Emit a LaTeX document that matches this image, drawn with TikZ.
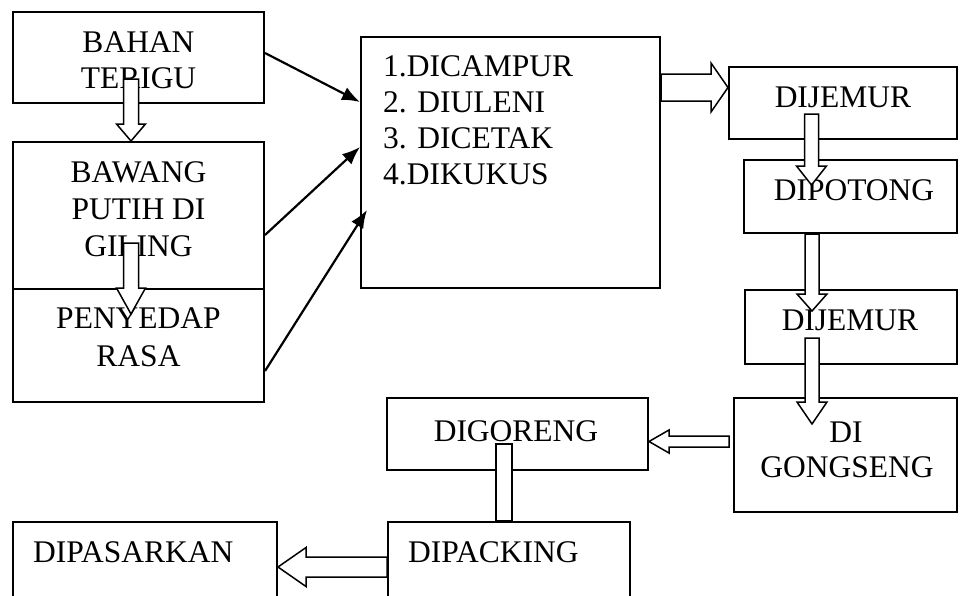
\documentclass[tikz,border=0pt]{standalone}
\usepackage{fontspec}
\setmainfont{Liberation Serif}
\usetikzlibrary{calc,arrows.meta}
% hollow block arrows: #1 start, #2 tip, #3 shaft half width, #4 head half width, #5 head length
\newcommand\hdown[5]{\draw[hollow] ($(#1)+(-#3,0)$) -- ($(#2)+(-#3,-#5)$) -- ($(#2)+(-#4,-#5)$) -- (#2) -- ($(#2)+(#4,-#5)$) -- ($(#2)+(#3,-#5)$) -- ($(#1)+(#3,0)$) -- cycle;}
\newcommand\hright[5]{\draw[hollow] ($(#1)+(0,-#3)$) -- ($(#2)+(-#5,-#3)$) -- ($(#2)+(-#5,-#4)$) -- (#2) -- ($(#2)+(-#5,#4)$) -- ($(#2)+(-#5,#3)$) -- ($(#1)+(0,#3)$) -- cycle;}
\newcommand\hleft[5]{\draw[hollow] ($(#1)+(0,-#3)$) -- ($(#2)+(#5,-#3)$) -- ($(#2)+(#5,-#4)$) -- (#2) -- ($(#2)+(#5,#4)$) -- ($(#2)+(#5,#3)$) -- ($(#1)+(0,#3)$) -- cycle;}
\tikzset{
  flowbox/.style={draw, line width=2pt, inner sep=0pt},
  lbl/.style={font=\fontsize{31.5}{37}\selectfont, inner sep=0pt, anchor=base},
  lbll/.style={lbl, anchor=base west},
  hollow/.style={draw, fill=white, line width=1.5pt, line join=miter},
  thinarrow/.style={line width=2.2pt, -{Latex[length=18pt,width=14pt]}}
}
\begin{document}
\begin{tikzpicture}[x=1pt, y=-1pt]
\clip (0,0) rectangle (962,595);
\fill[white] (0,0) rectangle (962,595);
% boxes
\node[flowbox, minimum width=251pt, minimum height=91pt]  (bahan)    at (138.5,57.5) {};
\node[flowbox, minimum width=251pt, minimum height=147pt] (bawang)   at (138.5,215.5) {};
\node[flowbox, minimum width=251pt, minimum height=113pt] (penyedap) at (138.5,345.5) {};
\node[flowbox, minimum width=299pt, minimum height=251pt] (main)     at (510.5,162.5) {};
\node[flowbox, minimum width=228pt, minimum height=72pt]  (jemur1)   at (843,103) {};
\node[flowbox, minimum width=213pt, minimum height=73pt]  (potong)   at (850.5,196.5) {};
\node[flowbox, minimum width=212pt, minimum height=74pt]  (jemur2)   at (851,327) {};
\node[flowbox, minimum width=223pt, minimum height=114pt] (gongseng) at (845.5,455) {};
\node[flowbox, minimum width=261pt, minimum height=72pt]  (goreng)   at (517.5,434) {};
\node[flowbox, minimum width=242pt, minimum height=118pt] (packing)  at (509,581) {};
\node[flowbox, minimum width=264pt, minimum height=118pt] (pasarkan) at (145,581) {};
% texts
\node[lbl] (t1a) at (138.5,52) {BAHAN};
\node[lbl] (t1b) at (138.5,88) {TERIGU};
\node[lbl] (t2a) at (138.5,182) {BAWANG};
\node[lbl] (t2b) at (138.5,219) {PUTIH DI};
\node[lbl] (t2c) at (138.5,256) {GILING};
\node[lbl] (t3a) at (138.5,328) {PENYEDAP};
\node[lbl] (t3b) at (138.5,366) {RASA};
\node[lbll] (m1) at (383,76) {1.DICAMPUR};
\node[lbll] (m2) at (383,112) {2. DIULENI};
\node[lbll] (m3) at (383,148) {3. DICETAK};
\node[lbll] (m4) at (383,184) {4.DIKUKUS};
\node[lbl] (t4) at (843,107) {DIJEMUR};
\node[lbl] (t5) at (854,200) {DIPOTONG};
\node[lbl] (t6) at (850,330) {DIJEMUR};
\node[lbl] (t7a) at (846,442) {DI};
\node[lbl] (t7b) at (847,477) {GONGSENG};
\node[lbl] (t8) at (516,441) {DIGORENG};
\node[lbll] (t9) at (408,562) {DIPACKING};
\node[lbll] (t10) at (33,562) {DIPASARKAN};
% hollow arrows
\coordinate (h1s) at ($(bahan.south)+(-7.5,-25)$);
\coordinate (h1t) at ($(bawang.north)+(-7.5,0)$);
\hdown{h1s}{h1t}{7.5}{14.5}{17}
\coordinate (h2s) at ($(bawang.south)+(-7.5,-47)$);
\coordinate (h2t) at ($(penyedap.north)+(-7.5,26)$);
\hdown{h2s}{h2t}{7.5}{14.5}{26}
\coordinate (h3s) at ($(jemur1.south)+(-31.5,-26)$);
\coordinate (h3t) at ($(potong.north)+(-39,26)$);
\hdown{h3s}{h3t}{7}{15}{19}
\coordinate (h4s) at ($(potong.south)+(-38.5,0)$);
\coordinate (h4t) at ($(jemur2.north)+(-39,22)$);
\hdown{h4s}{h4t}{7}{15}{17}
\coordinate (h5s) at ($(jemur2.south)+(-39,-27)$);
\coordinate (h5t) at ($(gongseng.north)+(-33.5,27)$);
\hdown{h5s}{h5t}{7}{15}{22}
\coordinate (h6s) at ($(main.east)+(0,-75)$);
\coordinate (h6t) at ($(jemur1.west)+(0,-15.5)$);
\hright{h6s}{h6t}{13.5}{24.5}{17}
\coordinate (h7s) at ($(gongseng.west)+(-4,-13.5)$);
\coordinate (h7t) at ($(goreng.east)+(0,7.5)$);
\hleft{h7s}{h7t}{5.5}{11.5}{20}
\coordinate (h8s) at ($(packing.west)+(0,-14)$);
\coordinate (h8t) at ($(pasarkan.east)+(0,-14)$);
\hleft{h8s}{h8t}{10}{19.5}{28}
\draw[hollow] ($(goreng.south)+(-21.5,-27)$) rectangle ($(packing.north)+(3,0)$);
% thin arrows
\draw[thinarrow] ($(bahan.east)+(0,-4.5)$) -- ($(main.west)+(0,-60.5)$);
\draw[thinarrow] ($(bawang.east)+(0,19.5)$) -- ($(main.west)+(0,-15.5)$);
\draw[thinarrow] ($(penyedap.east)+(0,25.5)$) -- ($(main.west)+(7,47.5)$);
\end{tikzpicture}
\end{document}
